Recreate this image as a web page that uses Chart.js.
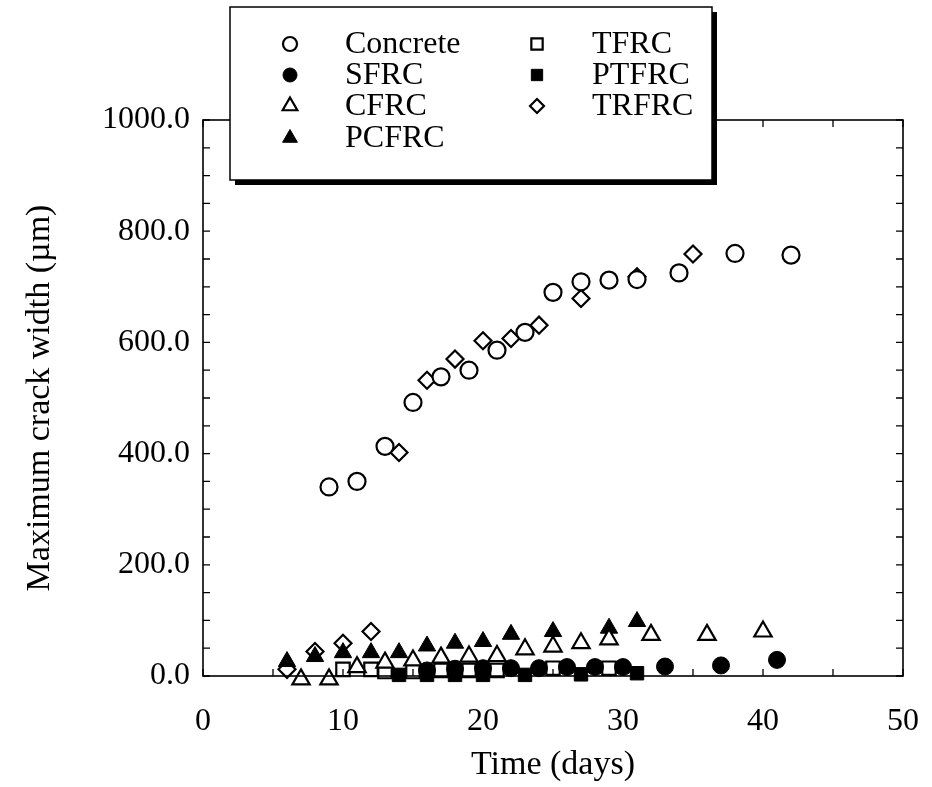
<!DOCTYPE html>
<html>
<head>
<meta charset="utf-8">
<script src="https://cdn.jsdelivr.net/npm/chart.js@4/dist/chart.umd.min.js"></script>
<style>
  html, body { margin: 0; padding: 0; background: #fff; }
  #wrap { position: relative; width: 932px; height: 787px; }
</style>
</head>
<body>
<div id="wrap"><canvas id="crack"></canvas></div>
<script>
/* data: days, max crack width (um) */
const concreteDays  = [9, 11, 13, 15, 17, 19, 21, 23, 25, 27, 29, 31, 34, 38, 42];
const concreteWidth = [340, 350, 413, 492, 538, 550, 586, 618, 690, 709, 712, 713, 725, 760, 757];

const sfrcDays  = [16, 18, 20, 22, 24, 26, 28, 30, 33, 37, 41];
const sfrcWidth = [10, 13, 14, 14, 14, 16, 16, 16, 17, 19, 29];

const cfrcDays  = [7, 9, 11, 13, 15, 17, 19, 21, 23, 25, 27, 29, 32, 36, 40];
const cfrcWidth = [-6, -6, 16, 24, 28, 33, 35, 36, 48, 53, 59, 66, 74, 74, 80];

const pcfrcDays  = [6, 8, 10, 12, 14, 16, 18, 20, 22, 25, 29, 31];
const pcfrcWidth = [26, 35, 42, 42, 42, 54, 59, 62, 75, 80, 86, 98];

const tfrcDays  = [10, 12, 13, 15, 17, 19, 21, 25, 29];
const tfrcWidth = [12, 12, 8, 8, 10, 10, 10, 14, 14];

const ptfrcDays  = [14, 16, 18, 20, 23, 27, 31];
const ptfrcWidth = [2, 2, 2, 2, 2, 3, 5];

const trfrcDays  = [6, 8, 10, 12, 14, 16, 18, 20, 22, 24, 27, 31, 35];
const trfrcWidth = [12, 44, 59, 80, 402, 532, 570, 603, 607, 631, 679, 718, 759];

const xTicks = [0, 10, 20, 30, 40, 50];
const yTicks = [0, 200, 400, 600, 800, 1000];

const SERIF = "'Liberation Serif', 'DejaVu Serif', serif";

function pts(days, vals) {
  return days.map((d, i) => ({ x: d, y: vals[i] }));
}

function series(label, days, vals, style, radius, filled) {
  return {
    label,
    data: pts(days, vals),
    pointStyle: style,
    pointRadius: radius,
    pointHoverRadius: radius,
    pointBorderWidth: filled ? 1 : 2.2,
    pointBorderColor: '#000',
    pointBackgroundColor: filled ? '#000' : '#fff',
    showLine: false,
    clip: false,
  };
}

const datasets = [
  series('Concrete', concreteDays, concreteWidth, 'circle', 8.5, false),
  series('SFRC', sfrcDays, sfrcWidth, 'circle', 8.5, true),
  series('CFRC', cfrcDays, cfrcWidth, 'triangle', 10, false),
  series('PCFRC', pcfrcDays, pcfrcWidth, 'triangle', 10, true),
  series('TFRC', tfrcDays, tfrcWidth, 'rect', 9.5, false),
  series('PTFRC', ptfrcDays, ptfrcWidth, 'rect', 9.5, true),
  series('TRFRC', trfrcDays, trfrcWidth, 'rectRot', 8.5, false),
];

/* frame with inward ticks on all four sides */
const framePlugin = {
  id: 'frame',
  afterDatasetsDraw(chart) {
    const { ctx, chartArea: a, scales: { x, y } } = chart;
    ctx.save();
    ctx.strokeStyle = '#000';
    ctx.lineWidth = 1.6;
    ctx.strokeRect(a.left, a.top, a.right - a.left, a.bottom - a.top);
    ctx.lineWidth = 1.3;
    const len = 7;
    ctx.beginPath();
    for (let v = 0; v <= 50; v += 5) {
      const px = x.getPixelForValue(v);
      ctx.moveTo(px, a.bottom); ctx.lineTo(px, a.bottom - len);
      ctx.moveTo(px, a.top); ctx.lineTo(px, a.top + len);
    }
    for (let v = 0; v <= 1000; v += 50) {
      const py = y.getPixelForValue(v);
      ctx.moveTo(a.left, py); ctx.lineTo(a.left + len, py);
      ctx.moveTo(a.right, py); ctx.lineTo(a.right - len, py);
    }
    ctx.stroke();
    ctx.restore();
  }
};

/* boxed legend with drop shadow, two columns */
const legendPlugin = {
  id: 'boxLegend',
  afterDraw(chart) {
    const { ctx } = chart;
    const bx = 230, by = 7, bw = 482, bh = 173, sh = 5;
    ctx.save();
    ctx.fillStyle = '#000';
    ctx.fillRect(bx + sh, by + sh, bw, bh);
    ctx.fillStyle = '#fff';
    ctx.fillRect(bx, by, bw, bh);
    ctx.strokeStyle = '#000';
    ctx.lineWidth = 1.5;
    ctx.strokeRect(bx, by, bw, bh);

    const rows = [44, 75, 106, 138];
    const cols = [{ mx: 290, tx: 345 }, { mx: 537, tx: 592 }];
    ctx.font = '32px ' + SERIF;
    ctx.textBaseline = 'middle';
    ctx.textAlign = 'left';
    chart.data.datasets.forEach((ds, i) => {
      const c = i < 4 ? cols[0] : cols[1];
      const r = i < 4 ? rows[i] : rows[i - 4];
      ctx.fillStyle = ds.pointBackgroundColor;
      ctx.strokeStyle = ds.pointBorderColor;
      ctx.lineWidth = ds.pointBorderWidth;
      Chart.helpers.drawPoint(ctx, {
        pointStyle: ds.pointStyle,
        radius: ds.pointRadius - 1.5,
        rotation: 0,
        borderWidth: ds.pointBorderWidth,
      }, c.mx, r);
      ctx.fillStyle = '#000';
      ctx.fillText(ds.label, c.tx, r + 1);
    });
    ctx.restore();
  }
};

new Chart(document.getElementById('crack'), {
  type: 'scatter',
  data: { datasets },
  plugins: [framePlugin, legendPlugin],
  options: {
    responsive: true,
    maintainAspectRatio: false,
    animation: false,
    layout: { padding: { top: 120, right: 29, left: 0, bottom: 0 } },
    plugins: { legend: { display: false }, tooltip: { enabled: false } },
    scales: {
      x: {
        type: 'linear', min: 0, max: 50,
        afterBuildTicks: s => { s.ticks = xTicks.map(v => ({ value: v })); },
        afterFit: s => { s.height = 111; s.paddingLeft = 0; s.paddingRight = 0; },
        grid: { display: false, drawTicks: false },
        border: { display: false },
        ticks: { color: '#000', font: { family: SERIF, size: 32 }, padding: 26, maxRotation: 0 },
        title: { display: true, text: 'Time (days)', color: '#000', font: { family: SERIF, size: 34 }, padding: { top: 0, bottom: 2 } }
      },
      y: {
        type: 'linear', min: 0, max: 1000,
        afterBuildTicks: s => { s.ticks = yTicks.map(v => ({ value: v })); },
        afterFit: s => { s.width = 203; },
        grid: { display: false, drawTicks: false },
        border: { display: false },
        ticks: { color: '#000', font: { family: SERIF, size: 32 }, padding: 13, callback: v => v.toFixed(1) },
        title: { display: true, text: 'Maximum crack width (\u00b5m)', color: '#000', font: { family: SERIF, size: 34 }, padding: { top: 20, bottom: 0 } }
      }
    }
  }
});
</script>
</body>
</html>
